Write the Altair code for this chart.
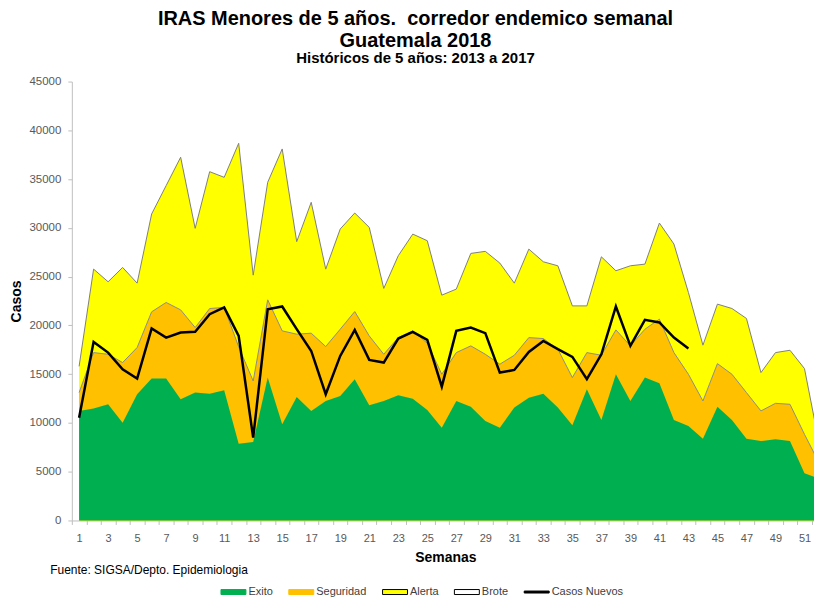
import altair as alt
import pandas as pd

# ---- data ----
semanas = list(range(1, 53))
exito = [11230, 11470, 11910, 10030, 12940, 14550, 14550, 12420, 13110, 13000,
         13350, 7870, 8040, 14650, 9860, 12660, 11230, 12250, 12770, 14480,
         11810, 12250, 12830, 12490, 11330, 9510, 12250, 11670, 10200, 9510,
         11570, 12590, 13000, 11570, 9750, 13450, 10300, 14990, 12250, 14650,
         14070, 10300, 9690, 8390, 11670, 10300, 8390, 8140, 8320, 8140,
         4830, 4280]
seguridad = [13110, 17210, 17040, 16190, 17730, 21390, 22350, 21590, 19780, 21730,
             21840, 17800, 14300, 22620, 19440, 19100, 19200, 17830, 19610, 21420,
             18920, 17040, 18750, 19440, 18170, 14990, 17210, 17900, 17040, 16020,
             16940, 18750, 18650, 17560, 14650, 17210, 16940, 19540, 17900, 19610,
             20640, 17210, 14990, 12250, 16080, 14990, 13110, 11230, 12010, 11910,
             8830, 5920]
alerta = [15800, 25770, 24470, 25940, 24330, 31420, 34330, 37240, 29950, 35760,
          35180, 38670, 25150, 34670, 38090, 28580, 32620, 25770, 29880, 31520,
          30050, 23790, 27140, 29360, 28680, 23100, 23720, 27380, 27590, 26390,
          24330, 27820, 26520, 26110, 22000, 22000, 27030, 25600, 26110, 26280,
          30490, 28340, 23370, 17970, 22180, 21730, 20710, 15160, 17210, 17450,
          15570, 7970]
casos_nuevos = [10540, 18310, 17210, 15500, 14550, 19680, 18750, 19270, 19340, 21150,
                21840, 18920, 8490, 21660, 21940, 19610, 17380, 12940, 16870, 19540,
                16460, 16190, 18650, 19340, 18510, 13720, 19440, 19780, 19200, 15160,
                15430, 17280, 18410, 17560, 16770, 14480, 17040, 21940, 17900, 20570,
                20300, 18750, 17630]

series = ["Exito", "Seguridad", "Alerta", "Brote", "Casos Nuevos"]
serie_fill = ["#00B050", "#FFC000", "#FFFF00", "#FFFFFF", "#000000"]
serie_stroke = ["#00B050", "#FFC000", "#000000", "#000000", "#000000"]
rect_path = "M-4,-0.5L1,-0.5L1,0.5L-4,0.5Z"
line_path = "M-4,-0.2L1,-0.2L1,0.2L-4,0.2Z"
serie_shape = [rect_path, rect_path, rect_path, rect_path, line_path]

fuente = ["Fuente: SIGSA/Depto. Epidemiologia"]
y_ticks = list(range(0, 45001, 5000))
x_tick_pos = [w - 0.5 for w in semanas]

df = pd.DataFrame({"semana": semanas, "exito": exito,
                   "seguridad": seguridad, "alerta": alerta})
df_casos = pd.DataFrame({"semana": semanas[:len(casos_nuevos)], "casos": casos_nuevos})
df_leg = pd.DataFrame({"serie": series})
df_fuente = pd.DataFrame({"texto": fuente})

FONT = "Liberation Sans"
W, H = 749, 440

x_scale = alt.Scale(domain=[0.5, 52], nice=False, zero=False)
y_scale = alt.Scale(domain=[0, 45000], nice=False)

x_axis = alt.Axis(
    title="Semanas", values=x_tick_pos,
    labelExpr="((datum.value - 0.5) % 2 == 0) ? toString(datum.value + 0.5) : ''",
    labelOffset=7.27, labelFlush=False, labelOverlap=False, grid=False,
    tickSize=4, labelPadding=8, titlePadding=7, labelFontSize=11,
    titleFontSize=14)
y_axis = alt.Axis(
    title="Casos", values=y_ticks, format="d", grid=False, tickSize=4,
    labelPadding=7, titlePadding=5, labelFontSize=11.5, titleFontSize=14)

X = alt.X("semana:Q", scale=x_scale, axis=x_axis)

leg = alt.Legend(
    title=None, orient="none", legendX=164, legendY=506, direction="horizontal",
    symbolSize=100, symbolStrokeWidth=1, symbolOpacity=1,
    labelFont=FONT, labelFontSize=11, labelColor="#404040",
    labelOffset=2, columnPadding=13)

legend_layer = alt.Chart(df_leg).mark_point(filled=True, opacity=0).encode(
    fill=alt.Fill("serie:N", scale=alt.Scale(domain=series, range=serie_fill), legend=leg),
    stroke=alt.Stroke("serie:N", scale=alt.Scale(domain=series, range=serie_stroke), legend=leg),
    shape=alt.Shape("serie:N", scale=alt.Scale(domain=series, range=serie_shape), legend=leg),
)

base = alt.Chart(df)
area_alerta = base.mark_area(
    color="#FFFF00", opacity=1, line=alt.OverlayMarkDef(color="#7F7F7F", strokeWidth=1)
).encode(x=X, y=alt.Y("alerta:Q", scale=y_scale, axis=y_axis))
area_seg = base.mark_area(
    color="#FFC000", opacity=1, line=alt.OverlayMarkDef(color="#8C8C8C", strokeWidth=1)
).encode(x=X, y=alt.Y("seguridad:Q", scale=y_scale, axis=y_axis))
area_exito = base.mark_area(color="#00B050", opacity=1).encode(
    x=X, y=alt.Y("exito:Q", scale=y_scale, axis=y_axis))

line_casos = alt.Chart(df_casos).mark_line(color="black", strokeWidth=2.5).encode(
    x=X, y=alt.Y("casos:Q", scale=y_scale, axis=y_axis))

fuente_text = alt.Chart(df_fuente).mark_text(
    align="left", baseline="middle", font=FONT, fontSize=12, color="black"
).encode(text="texto:N", x=alt.value(-21.7), y=alt.value(490))

chart = alt.layer(
    legend_layer, area_alerta, area_seg, area_exito, line_casos, fuente_text
).properties(
    width=W, height=H,
    padding={"left": 2, "top": 0, "right": -7, "bottom": 0},
    title=alt.TitleParams(
        text=["IRAS Menores de 5 años.\u00a0 corredor endemico semanal", "Guatemala 2018"],
        subtitle="Históricos de 5 años: 2013 a 2017",
        font=FONT, fontSize=20, fontWeight="bold", color="black", lineHeight=22,
        subtitleFont=FONT, subtitleFontSize=15, subtitleFontWeight="bold",
        subtitleColor="black", subtitlePadding=0,
        anchor="middle", frame="bounds", offset=10),
).configure_view(stroke=None).configure_axis(
    labelFont=FONT, titleFont=FONT, labelColor="#595959", titleColor="black",
    titleFontWeight="bold", domainColor="#BFBFBF", tickColor="#BFBFBF",
)

chart.save("out.html", embed_options={"renderer": "svg", "actions": False})
